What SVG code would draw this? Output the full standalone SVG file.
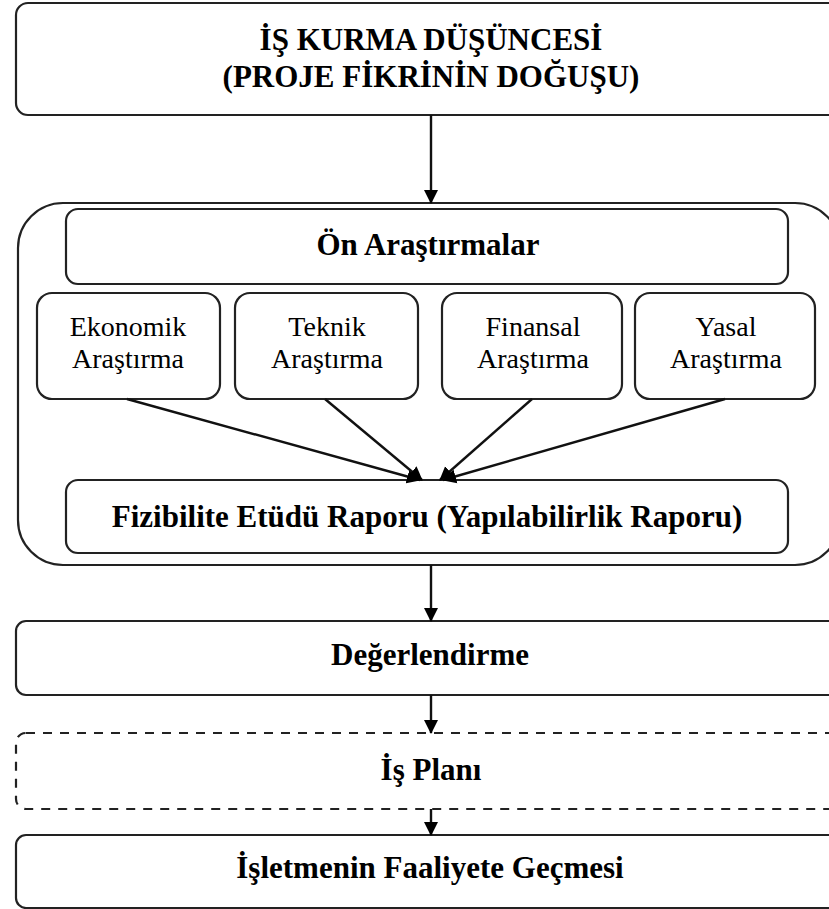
<svg xmlns="http://www.w3.org/2000/svg" width="829" height="909" viewBox="0 0 829 909">
<style>
  .box{fill:#fff;stroke:#222;stroke-width:2.2}
  .dash{fill:#fff;stroke:#222;stroke-width:2.2;stroke-dasharray:9 8}
  .t{font-family:"Liberation Serif","Times New Roman",serif;font-size:31px;font-weight:bold;fill:#000;text-anchor:middle}
  .s{font-family:"Liberation Serif","Times New Roman",serif;font-size:28px;fill:#000;text-anchor:middle}
  .c{stroke:#111;stroke-width:2.4;fill:none}
</style>
<defs>
  <marker id="ah" markerWidth="14" markerHeight="16" refX="13" refY="7" orient="auto" markerUnits="userSpaceOnUse" viewBox="0 0 14 14">
    <path d="M0,0 L14,7 L0,14 Z" fill="#000"/>
  </marker>
</defs>
<rect width="829" height="909" fill="#fff"/>

<g id="container">
  <rect class="box" x="18" y="203" width="822" height="362" rx="45" ry="45"/>
</g>

<g id="n-is-kurma">
  <rect class="box" x="16" y="3" width="830" height="112" rx="12"/>
  <text class="t" x="431" y="50">İŞ KURMA DÜŞÜNCESİ</text>
  <text class="t" x="431" y="87">(PROJE FİKRİNİN DOĞUŞU)</text>
</g>

<g id="n-on-arastirmalar">
  <rect class="box" x="66" y="209" width="722" height="75" rx="12"/>
  <text class="t" x="428" y="255">Ön Araştırmalar</text>
</g>

<g id="n-ekonomik">
  <rect class="box" x="37" y="293" width="183" height="106" rx="15"/>
  <text class="s" x="128" y="336">Ekonomik</text>
  <text class="s" x="128" y="368">Araştırma</text>
</g>
<g id="n-teknik">
  <rect class="box" x="235" y="293" width="183" height="106" rx="15"/>
  <text class="s" x="327" y="336">Teknik</text>
  <text class="s" x="327" y="368">Araştırma</text>
</g>
<g id="n-finansal">
  <rect class="box" x="442" y="293" width="180" height="106" rx="15"/>
  <text class="s" x="533" y="336">Finansal</text>
  <text class="s" x="533" y="368">Araştırma</text>
</g>
<g id="n-yasal">
  <rect class="box" x="635" y="293" width="180" height="106" rx="15"/>
  <text class="s" x="726" y="336">Yasal</text>
  <text class="s" x="726" y="368">Araştırma</text>
</g>

<g id="n-fizibilite">
  <rect class="box" x="66" y="480" width="722" height="73" rx="12"/>
  <text class="t" x="427" y="527">Fizibilite Etüdü Raporu (Yapılabilirlik Raporu)</text>
</g>

<g id="n-degerlendirme">
  <rect class="box" x="16" y="621" width="830" height="74" rx="10"/>
  <text class="t" x="430" y="665">Değerlendirme</text>
</g>

<g id="n-is-plani">
  <rect class="dash" x="16" y="733" width="830" height="76" rx="10"/>
  <text class="t" x="431" y="780">İş Planı</text>
</g>

<g id="n-isletme">
  <rect class="box" x="16" y="835" width="830" height="73" rx="10"/>
  <text class="t" x="430" y="878">İşletmenin Faaliyete Geçmesi</text>
</g>

<g id="connectors">
  <line class="c" x1="431" y1="115" x2="431" y2="203" marker-end="url(#ah)"/>
  <line class="c" x1="127" y1="399" x2="420" y2="480" marker-end="url(#ah)"/>
  <line class="c" x1="325" y1="399" x2="422" y2="480" marker-end="url(#ah)"/>
  <line class="c" x1="532" y1="399" x2="440" y2="480" marker-end="url(#ah)"/>
  <line class="c" x1="725" y1="399" x2="443" y2="480" marker-end="url(#ah)"/>
  <line class="c" x1="431" y1="565" x2="431" y2="621" marker-end="url(#ah)"/>
  <line class="c" x1="431" y1="695" x2="431" y2="733" marker-end="url(#ah)"/>
  <line class="c" x1="431" y1="809" x2="431" y2="835" marker-end="url(#ah)"/>
</g>
</svg>
